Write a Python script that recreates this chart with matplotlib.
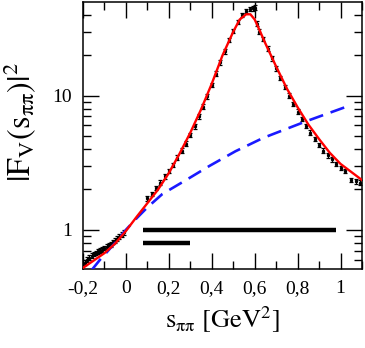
import matplotlib
matplotlib.use("Agg")
import matplotlib.pyplot as plt
from matplotlib.ticker import FixedLocator, NullFormatter

plt.rcParams['font.family'] = ['Liberation Serif', 'DejaVu Serif']
plt.rcParams['mathtext.fontset'] = 'stix'

data_x = [-0.19, -0.18, -0.17, -0.16, -0.15, -0.14, -0.13, -0.12, -0.11, -0.10,
          -0.09, -0.08, -0.07, -0.06, -0.05, -0.04, -0.03, -0.02, -0.01,
          0.10, 0.12, 0.14, 0.16, 0.18, 0.20, 0.22, 0.24, 0.26, 0.28,
          0.30, 0.32, 0.34, 0.36, 0.38, 0.40, 0.42, 0.44, 0.46, 0.48,
          0.50, 0.52, 0.54, 0.56, 0.58, 0.59, 0.60, 0.61, 0.62, 0.64,
          0.66, 0.68, 0.70, 0.72, 0.74, 0.76, 0.78, 0.80, 0.82, 0.84,
          0.86, 0.88, 0.90, 0.92, 0.94, 0.96, 0.98, 1.00, 1.02, 1.05,
          1.07, 1.09]
data_y = [0.57, 0.60, 0.62, 0.64, 0.66, 0.67, 0.69, 0.70, 0.71, 0.73,
          0.75, 0.77, 0.78, 0.81, 0.83, 0.86, 0.89, 0.92, 0.96,
          1.72, 1.85, 2.05, 2.25, 2.5, 2.75, 3.05, 3.45, 3.9, 4.4,
          5.1, 5.9, 7.0, 8.3, 9.9, 12.0, 14.6, 17.8, 21.5, 26.0,
          30.5, 35.5, 40.0, 43.0, 44.5, 45.0, 45.5, 34.5, 30.0, 26.5,
          22.5, 19.0, 16.0, 13.6, 11.6, 10.0, 8.7, 7.6, 6.7, 5.95,
          5.3, 4.75, 4.3, 3.9, 3.6, 3.35, 3.1, 2.9, 2.75, 2.35,
          2.3, 2.25]
rel_err = 0.04

# fit curve (red)
fit_x = [-0.2, -0.15, -0.1, -0.05, 0.0, 0.05, 0.1, 0.15, 0.2, 0.25, 0.3, 0.35,
         0.4, 0.45, 0.5, 0.53, 0.56, 0.58, 0.6, 0.62, 0.65, 0.7, 0.75, 0.8,
         0.85, 0.9, 0.95, 1.0, 1.05, 1.1]
fit_y = [0.52, 0.59, 0.67, 0.79, 0.98, 1.25, 1.58, 2.0, 2.65, 3.7, 5.3, 7.9,
         12.3, 20.0, 30.0, 37.0, 40.5, 40.5, 37.0, 31.5, 24.5, 16.5, 11.3, 8.2,
         6.1, 4.75, 3.75, 3.1, 2.7, 2.35]

# dashed curve (blue)
dash_x = [-0.16, -0.12, -0.05, 0.0, 0.05, 0.1, 0.17, 0.28, 0.39, 0.51, 0.64, 0.84, 1.02]
dash_y = [0.50, 0.60, 0.80, 1.0, 1.22, 1.47, 1.85, 2.35, 3.0, 3.85, 4.85, 6.45, 8.2]

# horizontal bars: (x start, x end, y)
bars = [(0.08, 0.98, 1.0), (0.08, 0.30, 0.80)]

xticks = [-0.2, 0, 0.2, 0.4, 0.6, 0.8, 1.0]
xticklabels = ['-0,2', '0', '0,2', '0,4', '0,6', '0,8', '1']
xminor = [-0.1, 0.1, 0.3, 0.5, 0.7, 0.9, 1.1]
yticks = [1, 10]
yticklabels = ['1', '10']
yminor = [0.6, 0.7, 0.8, 0.9, 2, 3, 4, 5, 6, 7, 8, 9, 20, 30, 40]

fig = plt.figure(figsize=(3.65, 3.48), dpi=100)
ax = fig.add_axes([0.2274, 0.2270, 0.7644, 0.7672])

ax.errorbar(data_x, data_y, yerr=[y * rel_err for y in data_y], fmt='s',
            color='black', ms=1.3, elinewidth=0.9, capsize=1.2, capthick=0.9, zorder=2)
ax.plot(dash_x, dash_y, color='#1a1aff', lw=1.9, dashes=(5.5, 3.0), zorder=3)
ax.plot(fit_x, fit_y, color='#ff0000', lw=1.7, zorder=4)
for x0, x1, yb in bars:
    ax.plot([x0, x1], [yb, yb], color='black', lw=3.2, solid_capstyle='butt', zorder=5)

ax.set_yscale('log')
ax.set_xlim(-0.2, 1.1)
ax.set_ylim(0.51, 50)

ax.xaxis.set_major_locator(FixedLocator(xticks))
ax.set_xticklabels(xticklabels)
ax.xaxis.set_minor_locator(FixedLocator(xminor))
ax.yaxis.set_major_locator(FixedLocator(yticks))
ax.set_yticklabels(yticklabels)
ax.yaxis.set_minor_locator(FixedLocator(yminor))
ax.yaxis.set_minor_formatter(NullFormatter())

ax.tick_params(which='both', direction='in', top=True, right=True, width=1.0, labelsize=14)
ax.tick_params(which='major', length=11.5, pad=8)
ax.tick_params(which='minor', length=5.5)
for s in ax.spines.values():
    s.set_linewidth(1.1)

ax.set_xlabel(r'$\mathrm{s_{\pi\pi}\ [GeV^2]}$', fontsize=19, labelpad=5)
ax.set_ylabel(r'$\mathrm{|F_V(s_{\pi\pi})|^2}$', fontsize=23)
ax.yaxis.set_label_coords(-0.16, 0.55)

fig.savefig('out.png', dpi=100)
